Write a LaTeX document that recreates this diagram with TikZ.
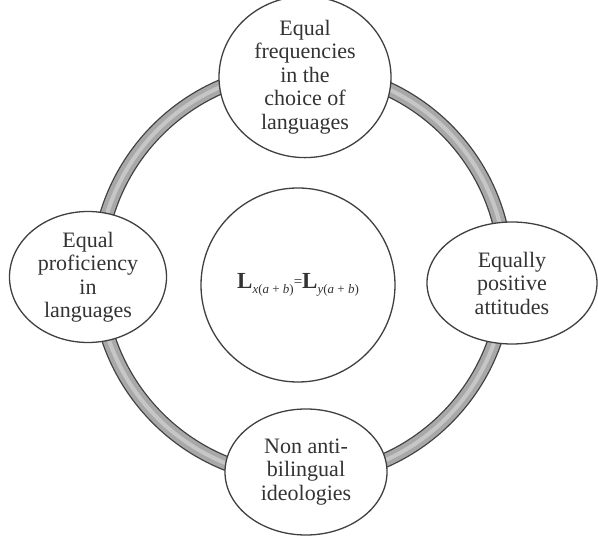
\documentclass[tikz,border=0pt]{standalone}
\usepackage{fontspec}
\setmainfont{Liberation Serif}
\usetikzlibrary{shapes.geometric}
\definecolor{txt}{HTML}{333333}
\definecolor{edge}{HTML}{404040}
\definecolor{ringfill}{HTML}{A8A8A8}
\tikzset{
  bubble/.style={ellipse, draw=edge, line width=1.3pt, fill=white, inner sep=0pt,
    align=center, text=txt, font=\fontsize{22}{23.5}\selectfont},
  hub/.style={circle, draw=edge, line width=1.3pt, fill=white, inner sep=0pt, text=txt},
}
\begin{document}
\begin{tikzpicture}[x=1pt,y=-1pt]
\useasboundingbox[fill=white] (0,0) rectangle (598,540);
% ring
\coordinate (rc) at (302,274);
\draw[edge, line width=15pt] (rc) circle[radius=204];
\draw[ringfill, line width=12.4pt] (rc) circle[radius=204];
\draw[white, opacity=0.35, line width=4pt] (rc) circle[radius=204];
% centre
\node[hub, minimum size=194pt] (c) at (298,285)
  {\fontsize{23}{24}\selectfont\textbf{L}\raisebox{-0.45ex}{\fontsize{13}{13}\selectfont\textit{x}(\textit{a} + \textit{b})}\raisebox{0.25ex}{\fontsize{15}{15}\selectfont =}\textbf{L}\raisebox{-0.45ex}{\fontsize{13}{13}\selectfont\textit{y}(\textit{a} + \textit{b})}};
% bubbles
\node[bubble, minimum width=172pt, minimum height=135pt] (top) at (305,77)
  {Equal\\frequencies\\in the\\choice of\\languages};
\node[bubble, minimum width=157pt, minimum height=131pt] (left) at (88,277)
  {Equal\\proficiency\\in\\languages};
\node[bubble, minimum width=170pt, minimum height=122pt] (right) at (512,283)
  {Equally\\positive\\attitudes};
\node[bubble, minimum width=162pt, minimum height=126pt] (bottom) at (306,472)
  {Non anti-\\bilingual\\ideologies};
\end{tikzpicture}
\end{document}
